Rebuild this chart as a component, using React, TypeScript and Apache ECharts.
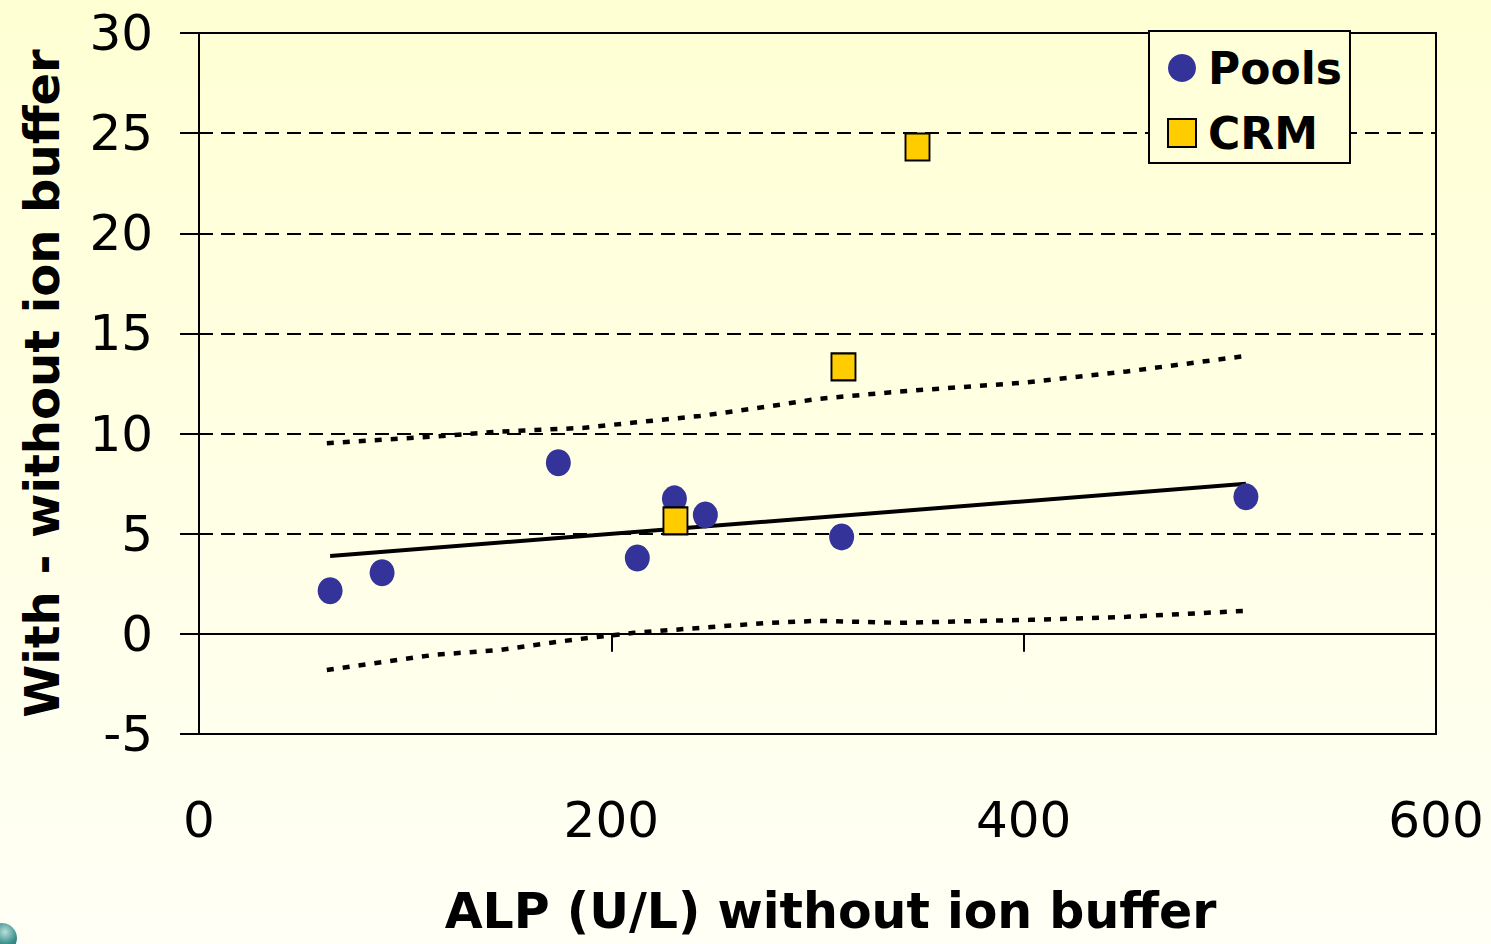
import React, { useEffect, useRef } from "react";
import * as echarts from "echarts";

// ---- data ----
const poolsX = [63.6, 88.8, 174.3, 212.6, 230.6, 245.6, 311.7, 507.8];
const poolsY = [2.15, 3.05, 8.54, 3.79, 6.74, 5.94, 4.84, 6.84];

const crmX = [231.1, 312.6, 348.5];
const crmY = [5.64, 13.33, 24.31];

const fitX = [63.6, 507.8];
const fitY = [3.89, 7.49];

const upperX = [62, 114, 146, 186, 211, 243, 276, 300, 340, 400, 450, 508];
const upperY = [9.52, 9.85, 10.1, 10.28, 10.55, 10.88, 11.35, 11.73, 12.1, 12.54, 13.1, 13.88];

const lowerX = [62, 114, 146, 181, 211, 243, 276, 300, 340, 403, 450, 508];
const lowerY = [-1.8, -1.05, -0.8, -0.3, 0.05, 0.3, 0.55, 0.65, 0.55, 0.7, 0.85, 1.15];

const xTicks = { min: 0, max: 600, interval: 200 };
const yTicks = { min: -5, max: 30, interval: 5 };

const xTitle = "ALP (U/L) without ion buffer";
const yTitle = "With - without ion buffer";

const zip = (xs: number[], ys: number[]) => xs.map((x, i) => [x, ys[i]]);

export default function App() {
  const ref = useRef<HTMLDivElement>(null);

  useEffect(() => {
    document.body.style.margin = "0";
    if (!ref.current) return;
    const chart = echarts.init(ref.current, null, { renderer: "svg" });
    const font = "DejaVu Sans";
    chart.setOption({
      animation: false,
      backgroundColor: new echarts.graphic.LinearGradient(0, 0, 0, 1, [
        { offset: 0, color: "#FFFFD4" },
        { offset: 1, color: "#FFFFF6" },
      ]),
      textStyle: { fontFamily: font },
      grid: {
        left: 199,
        right: 55,
        top: 33,
        bottom: 210,
        show: true,
        borderColor: "#000",
        borderWidth: 2,
        backgroundColor: "transparent",
      },
      legend: {
        orient: "vertical",
        left: 1149,
        top: 31,
        padding: [15, 8, 8, 18],
        itemWidth: 28,
        itemHeight: 28,
        itemGap: 21,
        backgroundColor: "#FFFFDA",
        borderColor: "#000",
        borderWidth: 2,
        borderRadius: 0,
        textStyle: {
          fontSize: 44,
          fontWeight: "bold",
          color: "#000",
          fontFamily: font,
          padding: [0, 0, 0, 7],
        },
        data: [
          { name: "Pools", icon: "circle" },
          { name: "CRM", icon: "rect" },
        ],
      },
      xAxis: [
        {
          type: "value",
          position: "bottom",
          ...xTicks,
          axisLine: { show: false, onZero: false },
          axisTick: { show: false },
          splitLine: { show: false },
          axisLabel: { fontSize: 50, color: "#000", margin: 61, fontFamily: font },
          name: xTitle,
          nameLocation: "middle",
          nameGap: 153,
          nameTextStyle: {
            fontSize: 49,
            fontWeight: "bold",
            color: "#000",
            fontFamily: font,
            padding: [0, 0, 0, 26],
          },
        },
        {
          type: "value",
          position: "bottom",
          ...xTicks,
          axisLine: { show: true, onZero: true, lineStyle: { color: "#000", width: 2 } },
          axisTick: { show: true, length: 18, lineStyle: { color: "#000", width: 2 } },
          axisLabel: { show: false },
          splitLine: { show: false },
        },
      ],
      yAxis: {
        type: "value",
        ...yTicks,
        axisLine: { show: true, onZero: false, lineStyle: { color: "#000", width: 2 } },
        axisTick: { show: true, length: 19, lineStyle: { color: "#000", width: 2 } },
        axisLabel: { fontSize: 50, color: "#000", margin: 46, fontFamily: font },
        splitLine: {
          show: true,
          lineStyle: { color: "#000", width: 2, type: [14, 8] },
        },
        name: yTitle,
        nameLocation: "middle",
        nameGap: 133,
        nameTextStyle: { fontSize: 48, fontWeight: "bold", color: "#000", fontFamily: font },
      },
      series: [
        {
          name: "upper",
          type: "line",
          data: zip(upperX, upperY),
          showSymbol: false,
          symbol: "none",
          lineStyle: { color: "#000", width: 4.5, type: [7, 9] },
          silent: true,
          z: 2,
        },
        {
          name: "lower",
          type: "line",
          data: zip(lowerX, lowerY),
          showSymbol: false,
          symbol: "none",
          lineStyle: { color: "#000", width: 4.5, type: [7, 9] },
          silent: true,
          z: 2,
        },
        {
          name: "fit",
          type: "line",
          data: zip(fitX, fitY),
          showSymbol: false,
          symbol: "none",
          lineStyle: { color: "#000", width: 4 },
          silent: true,
          z: 3,
        },
        {
          name: "Pools",
          type: "scatter",
          data: zip(poolsX, poolsY),
          symbol: "circle",
          symbolSize: [25, 27],
          itemStyle: { color: "#333399", opacity: 1 },
          z: 4,
        },
        {
          name: "CRM",
          type: "scatter",
          data: zip(crmX, crmY),
          symbol: "rect",
          symbolSize: [24, 27],
          itemStyle: { color: "#FFCC00", borderColor: "#000", borderWidth: 2, opacity: 1 },
          z: 5,
        },
      ],
      graphic: [
        {
          type: "circle",
          shape: { cx: 2, cy: 938, r: 15 },
          style: {
            fill: new echarts.graphic.RadialGradient(0.6, 0.3, 0.8, [
              { offset: 0, color: "#b8e0dc" },
              { offset: 0.5, color: "#3a8f8a" },
              { offset: 1, color: "#1d5a56" },
            ]),
          },
          silent: true,
        },
      ],
    });
    return () => chart.dispose();
  }, []);

  return <div ref={ref} style={{ width: 1491, height: 944 }} />;
}
